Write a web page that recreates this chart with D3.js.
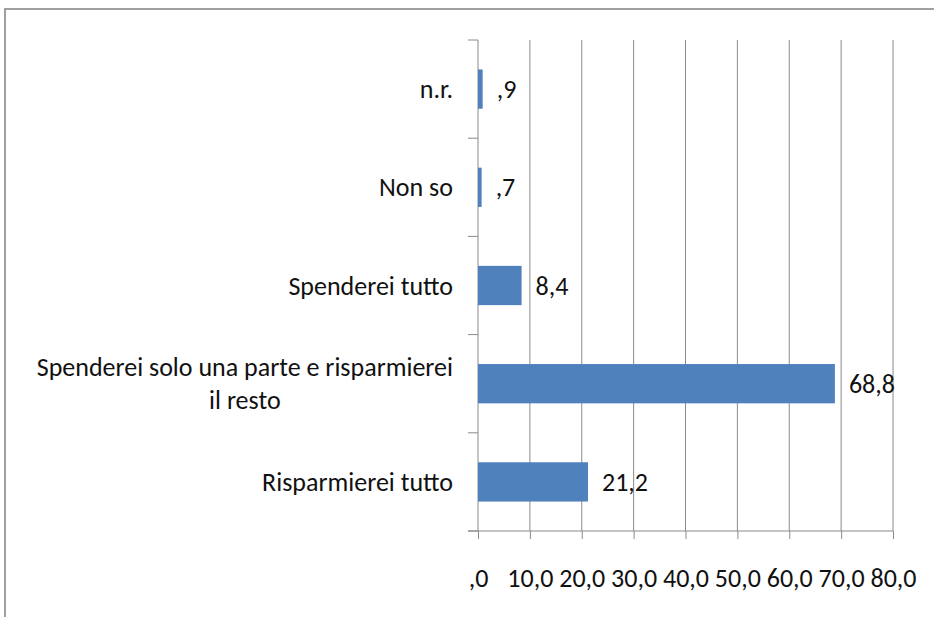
<!DOCTYPE html>
<html>
<head>
<meta charset="utf-8">
<script src="https://cdn.jsdelivr.net/npm/d3@7"></script>
<style>
  html, body { margin: 0; padding: 0; background: #fff; }
  svg { display: block; font-family: Carlito, Lato, "Open Sans", sans-serif; }
</style>
</head>
<body>
<svg id="chart" width="934" height="617"></svg>
<script>
// Survey answers, listed top to bottom as drawn
const categories = [
  "n.r.",
  "Non so",
  "Spenderei tutto",
  "Spenderei solo una parte e risparmierei\nil resto",
  "Risparmierei tutto"
];
// Percentages
const values = [0.9, 0.7, 8.4, 68.8, 21.2];
// Value axis ticks
const xTicks = [0, 10, 20, 30, 40, 50, 60, 70, 80];

const svg = d3.select("#chart");

// Plot area
const plotLeft = 478, plotRight = 893, plotTop = 40, plotBottom = 531;
const fontSize = 26;
const gridColor = "#8a8a8a";
const barColor = "#4f81bd";
const textColor = "#111";

// Outer chart frame (its right and bottom edges fall outside the view)
svg.append("rect")
  .attr("x", 5).attr("y", 9)
  .attr("width", 1200).attr("height", 1200)
  .attr("fill", "#fff")
  .attr("stroke", "#a0a0a0")
  .attr("stroke-width", 2);

const x = d3.scaleLinear().domain([0, 80]).range([plotLeft, plotRight]);
const y = d3.scaleBand().domain(categories).range([plotTop, plotBottom])
  .paddingInner(0.6).paddingOuter(0.3);

// Italian number format, ",9" style for values below one
const it = d3.formatLocale({ decimal: ",", thousands: ".", grouping: [3], currency: ["", "€"] });
const fmt = v => it.format(".1f")(v).replace(/^0,/, ",");

// Vertical gridlines
svg.append("g").selectAll("line")
  .data(xTicks.filter(t => t > 0))
  .join("line")
  .attr("x1", d => x(d)).attr("x2", d => x(d))
  .attr("y1", plotTop).attr("y2", plotBottom)
  .attr("stroke", gridColor).attr("stroke-width", 1);

// Bottom value axis
const xAxis = svg.append("g")
  .attr("transform", `translate(0,${plotBottom})`)
  .call(d3.axisBottom(x).tickValues(xTicks).tickFormat(fmt).tickSize(8).tickSizeOuter(0));
xAxis.select(".domain").remove();
xAxis.selectAll(".tick line").attr("stroke", gridColor);
xAxis.selectAll(".tick text")
  .attr("font-size", fontSize)
  .attr("fill", textColor)
  .attr("dy", "0.35em")
  .attr("y", 47);
xAxis.attr("font-family", null).attr("font-size", null);
xAxis.append("line")
  .attr("x1", plotLeft - 10).attr("x2", plotRight)
  .attr("y1", 0).attr("y2", 0)
  .attr("stroke", gridColor);

// Left category axis line and boundary ticks
const boundaries = d3.range(categories.length + 1).map(i => plotTop + i * y.step());
svg.append("line")
  .attr("x1", plotLeft).attr("x2", plotLeft)
  .attr("y1", plotTop).attr("y2", plotBottom)
  .attr("stroke", gridColor);
svg.append("g").selectAll("line")
  .data(boundaries)
  .join("line")
  .attr("x1", plotLeft - 10).attr("x2", plotLeft)
  .attr("y1", d => d).attr("y2", d => d)
  .attr("stroke", gridColor);

// Bars
svg.append("g").selectAll("rect")
  .data(values)
  .join("rect")
  .attr("x", x(0))
  .attr("y", (d, i) => y(categories[i]))
  .attr("width", d => x(d) - x(0))
  .attr("height", y.bandwidth())
  .attr("fill", barColor);

// Value labels
svg.append("g").selectAll("text")
  .data(values)
  .join("text")
  .attr("x", d => x(d) + 14)
  .attr("y", (d, i) => y(categories[i]) + y.bandwidth() / 2)
  .attr("dy", "0.35em")
  .attr("font-size", fontSize)
  .attr("fill", textColor)
  .text(fmt);

// Category labels; multi-line labels are centred on their widest line
const labelRight = 453;
const lineHeight = 33;
const catG = svg.append("g");
categories.forEach(c => {
  const lines = c.split("\n");
  const cy = y(c) + y.bandwidth() / 2;
  const t = catG.append("text")
    .attr("font-size", fontSize)
    .attr("fill", textColor)
    .attr("text-anchor", "middle");
  lines.forEach((ln, j) => {
    t.append("tspan")
      .attr("y", cy + (j - (lines.length - 1) / 2) * lineHeight)
      .attr("dy", "0.35em")
      .text(ln);
  });
  const maxW = d3.max(t.selectAll("tspan").nodes(), n => n.getComputedTextLength());
  t.selectAll("tspan").attr("x", labelRight - maxW / 2);
});
</script>
</body>
</html>
